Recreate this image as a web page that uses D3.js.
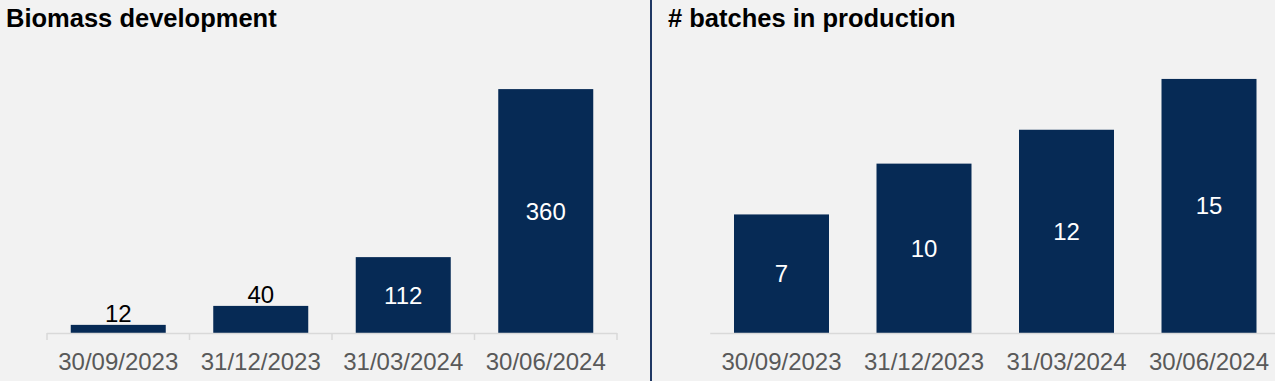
<!doctype html>
<html>
<head>
<style>
  body { margin: 0; background: #f2f2f2; }
  svg { display: block; font-family: "Liberation Sans", Arial, sans-serif; }
</style>
<script src="https://d3js.org/d3.v7.min.js"></script>
</head>
<body>
<svg width="1275" height="381"></svg>
<script>
  // data
  var dates = ["30/09/2023", "31/12/2023", "31/03/2024", "30/06/2024"];
  var biomass = [12, 40, 112, 360];
  var batches = [7, 10, 12, 15];

  var svg = d3.select("svg");
  var barColor = "#062a55";
  var baseY = 333, topY = 62;

  svg.append("rect").attr("width", 1275).attr("height", 381).attr("fill", "#f2f2f2");

  function panel(title, values, x0, yMax, insideMin, showTicks, titleX) {
    var x = d3.scaleBand().domain(dates).range([x0, x0 + 570])
              .paddingInner(1 / 3).paddingOuter(1 / 6);
    var y = d3.scaleLinear().domain([0, yMax]).range([baseY, topY]);
    var g = svg.append("g");

    g.append("text")
     .attr("x", titleX).attr("y", 27)
     .attr("font-size", "25.5px").attr("font-weight", "bold")
     .attr("fill", "#000")
     .text(title);

    g.selectAll(".bar")
     .data(values)
     .enter().append("rect")
     .attr("class", "bar")
     .attr("x", function(d, i) { return x(dates[i]); })
     .attr("y", function(d) { return y(d); })
     .attr("width", x.bandwidth())
     .attr("height", function(d) { return baseY - y(d); })
     .attr("fill", barColor);

    g.selectAll(".val")
     .data(values)
     .enter().append("text")
     .attr("class", "val")
     .attr("text-anchor", "middle")
     .attr("font-size", "24px")
     .attr("x", function(d, i) { return x(dates[i]) + x.bandwidth() / 2; })
     .attr("y", function(d) {
        return d >= insideMin ? (y(d) + baseY) / 2 : y(d) - 3;
     })
     .attr("dominant-baseline", function(d) { return d >= insideMin ? "central" : "auto"; })
     .attr("fill", function(d) { return d >= insideMin ? "#fff" : "#000"; })
     .text(function(d) { return d; });

    // axis
    var lineEnd = Math.min(x0 + 570, 1275);
    g.append("line")
     .attr("x1", x0).attr("x2", lineEnd)
     .attr("y1", baseY + 0.5).attr("y2", baseY + 0.5)
     .attr("stroke", "#d9d9d9").attr("stroke-width", 1.5);

    if (showTicks) {
      var bounds = d3.range(dates.length + 1).map(function(i) { return x0 + i * x.step(); });
      g.selectAll(".tick")
       .data(bounds)
       .enter().append("line")
       .attr("x1", function(d) { return d; }).attr("x2", function(d) { return d; })
       .attr("y1", baseY).attr("y2", baseY + 7)
       .attr("stroke", "#d9d9d9").attr("stroke-width", 1.5);
    }

    g.selectAll(".lab")
     .data(dates)
     .enter().append("text")
     .attr("class", "lab")
     .attr("text-anchor", "middle")
     .attr("font-size", "24px")
     .attr("fill", "#595959")
     .attr("x", function(d) { return x(d) + x.bandwidth() / 2; })
     .attr("y", 370)
     .text(function(d) { return d; });
  }

  panel("Biomass development", biomass, 47, 400, 100, true, 6);
  panel("# batches in production", batches, 710.25, 16, 0, false, 668);

  svg.append("line")
     .attr("x1", 651).attr("x2", 651)
     .attr("y1", 0).attr("y2", 381)
     .attr("stroke", "#1f3864").attr("stroke-width", 2);
</script>
</body>
</html>
